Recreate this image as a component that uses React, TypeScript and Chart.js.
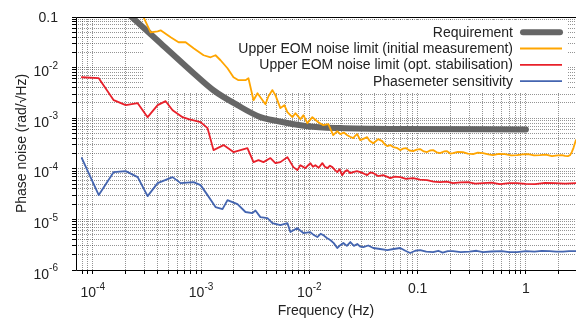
import React, { useEffect, useRef } from 'react';
import { Chart, registerables } from 'chart.js';

Chart.register(...registerables);

const X_MIN = 7.13e-5;
const X_MAX = 2.9;
const Y_MIN = 1e-6;
const Y_MAX = 0.1;

const seriesLabels = [
  'Requirement',
  'Upper EOM noise limit (initial measurement)',
  'Upper EOM noise limit (opt. stabilisation)',
  'Phasemeter sensitivity',
];
const seriesColors = ['#666666', '#ffa500', '#e8202a', '#4465b0'];
const seriesWidths = [6, 1.8, 1.8, 1.8];

const xTickValues = [1e-4, 1e-3, 1e-2, 0.1, 1];
const xTickText = ['10^-4', '10^-3', '10^-2', '0.1', '1'];
const yTickValues = [0.1, 1e-2, 1e-3, 1e-4, 1e-5, 1e-6];
const yTickText = ['0.1', '10^-2', '10^-3', '10^-4', '10^-5', '10^-6'];

const xTitle = 'Frequency (Hz)';
const yTitle = 'Phase noise (rad/\u221AHz)';

// Requirement
const reqFreq = [2.0e-4, 2.29e-4, 4.23e-4, 8.53e-4, 1.3e-3, 2.17e-3, 3.53e-3, 4.65e-3, 9.6e-3, 1.93e-2, 6.9e-2, 1.0];
const reqVal = [0.13, 0.1, 0.0303, 7.74e-3, 3.57e-3, 1.81e-3, 1.05e-3, 9.1e-4, 6.96e-4, 6.37e-4, 6.1e-4, 6.0e-4];

// Upper EOM noise limit (initial measurement)
const initFreq = [
  2.49e-4, 3.42e-4, 3.97e-4, 4.23e-4, 5.24e-4, 6.2e-4, 7.2e-4, 8.53e-4, 1.055e-3, 1.224e-3,
  1.36e-3, 1.513e-3, 1.754e-3, 1.993e-3, 2.216e-3, 2.57e-3, 2.74e-3, 3.05e-3, 3.32e-3, 3.53e-3,
  3.93e-3, 4.19e-3, 4.56e-3, 4.86e-3, 5.4e-3, 5.88e-3, 6.27e-3, 6.97e-3, 7.43e-3, 8.26e-3,
  8.8e-3, 9.58e-3, 1.066e-2, 1.21e-2, 1.346e-2, 1.497e-2, 1.66e-2, 1.81e-2, 1.93e-2, 2.08e-2,
  2.24e-2, 2.38e-2, 2.54e-2, 2.65e-2, 2.77e-2, 2.95e-2, 3.15e-2, 3.42e-2, 3.6e-2, 3.89e-2,
  4.1e-2, 4.32e-2, 4.71e-2, 5.0e-2, 5.24e-2, 5.6e-2, 5.94e-2, 6.4e-2, 6.9e-2, 7.3e-2,
  7.83e-2, 8.4e-2, 9.09e-2, 0.098, 0.1054, 0.114, 0.1224, 0.13, 0.139, 0.15,
  0.161, 0.175, 0.187, 0.2, 0.212, 0.235, 0.262, 0.29, 0.325, 0.36,
  0.401, 0.45, 0.496, 0.56, 0.64, 0.73, 0.826, 0.93, 1.043, 1.19,
  1.345, 1.53, 1.74, 1.95, 2.15, 2.3, 2.44, 2.55, 2.65, 2.75, 2.89,
];
const initVal = [
  0.214, 0.0499, 0.0522, 0.0546, 0.0397, 0.0317, 0.0317, 0.0241, 0.01754, 0.016,
  0.01754, 0.01397, 9.7e-3, 6.45e-3, 5.63e-3, 5.63e-3, 6.17e-3, 2.27e-3, 3.12e-3, 2.6e-3,
  1.89e-3, 2.72e-3, 3.59e-3, 2.85e-3, 1.58e-3, 1.81e-3, 1.315e-3, 1.047e-3, 1.256e-3, 9.57e-4,
  1.148e-3, 7.97e-4, 1.047e-3, 8.34e-4, 7.28e-4, 7.62e-4, 4.62e-4, 5.54e-4, 4.84e-4, 5.2e-4,
  4.62e-4, 4.3e-4, 4.03e-4, 4.5e-4, 4.84e-4, 3.68e-4, 3.9e-4, 4.22e-4, 3.6e-4, 3.21e-4,
  3.5e-4, 3.85e-4, 3.52e-4, 3.0e-4, 2.81e-4, 2.95e-4, 2.68e-4, 2.6e-4, 2.34e-4, 2.5e-4,
  2.56e-4, 2.3e-4, 2.23e-4, 2.4e-4, 2.45e-4, 2.2e-4, 2.14e-4, 2.3e-4, 2.34e-4, 2.12e-4,
  2.04e-4, 2.2e-4, 2.23e-4, 2.0e-4, 2.04e-4, 2.15e-4, 2.14e-4, 2.0e-4, 1.95e-4, 2.08e-4,
  2.04e-4, 1.92e-4, 1.86e-4, 1.98e-4, 1.95e-4, 1.85e-4, 1.86e-4, 1.93e-4, 1.95e-4, 1.84e-4,
  1.86e-4, 1.9e-4, 1.78e-4, 1.84e-4, 1.86e-4, 1.8e-4, 1.78e-4, 1.85e-4, 2.14e-4, 2.6e-4, 3.68e-4,
];

// Upper EOM noise limit (opt. stabilisation)
const optFreq = [
  7.92e-5, 1.136e-4, 1.561e-4, 2.014e-4, 2.6e-4, 3.21e-4, 3.97e-4, 4.71e-4, 5.46e-4, 6.75e-4,
  7.67e-4, 9.9e-4, 1.148e-3, 1.303e-3, 1.613e-3, 1.993e-3, 2.31e-3, 2.68e-3, 3.05e-3, 3.39e-3,
  3.77e-3, 4.37e-3, 4.86e-3, 5.4e-3, 6.27e-3, 7.12e-3, 7.75e-3, 8.26e-3, 9.18e-3, 1.02e-2,
  1.08e-2, 1.136e-2, 1.22e-2, 1.318e-2, 1.39e-2, 1.466e-2, 1.55e-2, 1.63e-2, 1.72e-2, 1.81e-2,
  1.9e-2, 2.01e-2, 2.12e-2, 2.24e-2, 2.38e-2, 2.54e-2, 2.75e-2, 2.95e-2, 3.2e-2, 3.42e-2,
  3.65e-2, 3.89e-2, 4.3e-2, 4.81e-2, 5.2e-2, 5.58e-2, 6.2e-2, 6.9e-2, 7.8e-2, 9.09e-2,
  0.105, 0.1224, 0.14, 0.161, 0.185, 0.212, 0.25, 0.292, 0.34, 0.401,
  0.48, 0.576, 0.7, 0.826, 1.0, 1.21, 1.5, 1.84, 2.3, 2.89,
];
const optVal = [
  6.45e-3, 6.17e-3, 2.27e-3, 1.81e-3, 1.98e-3, 1.047e-3, 1.81e-3, 2.17e-3, 1.44e-3, 1.047e-3,
  9.57e-4, 8.34e-4, 6.35e-4, 2.34e-4, 2.94e-4, 2.14e-4, 2.34e-4, 2.56e-4, 1.355e-4, 1.48e-4,
  1.355e-4, 1.63e-4, 1.294e-4, 1.355e-4, 1.7e-4, 1.08e-4, 9.42e-5, 1.18e-4, 1.031e-4, 1.294e-4,
  1.1e-4, 1.18e-4, 1.05e-4, 1.294e-4, 1.1e-4, 1.031e-4, 1.15e-4, 1.08e-4, 9.5e-5, 8.6e-5,
  9.8e-5, 7.5e-5, 8.8e-5, 9.42e-5, 8.2e-5, 8.6e-5, 9.0e-5, 8.6e-5, 8.0e-5, 7.5e-5,
  8.5e-5, 8.22e-5, 7.2e-5, 7.5e-5, 7.0e-5, 6.55e-5, 7.0e-5, 6.85e-5, 6.3e-5, 6.55e-5,
  6.1e-5, 5.98e-5, 5.6e-5, 5.46e-5, 5.6e-5, 5.21e-5, 5.4e-5, 5.46e-5, 5.1e-5, 5.21e-5,
  5.35e-5, 4.98e-5, 5.2e-5, 5.21e-5, 5.05e-5, 5.0e-5, 5.25e-5, 5.21e-5, 5.1e-5, 5.21e-5,
];

// Phasemeter sensitivity
const pmFreq = [
  7.92e-5, 1.136e-4, 1.561e-4, 2.014e-4, 2.6e-4, 3.21e-4, 3.97e-4, 5.46e-4, 6.47e-4, 8.53e-4,
  9.9e-4, 1.148e-3, 1.36e-3, 1.578e-3, 1.754e-3, 2.17e-3, 2.57e-3, 2.98e-3, 3.18e-3, 3.53e-3,
  4.1e-3, 4.56e-3, 5.4e-3, 6.27e-3, 6.68e-3, 7.75e-3, 8.8e-3, 1.02e-2, 1.1e-2, 1.185e-2,
  1.27e-2, 1.346e-2, 1.45e-2, 1.561e-2, 1.68e-2, 1.81e-2, 1.93e-2, 2.06e-2, 2.22e-2, 2.39e-2,
  2.58e-2, 2.77e-2, 2.95e-2, 3.15e-2, 3.5e-2, 3.89e-2, 4.5e-2, 5.24e-2, 6.0e-2, 6.9e-2,
  7.7e-2, 8.53e-2, 9.5e-2, 0.1054, 0.12, 0.139, 0.155, 0.17, 0.19, 0.212,
  0.25, 0.3, 0.35, 0.401, 0.48, 0.6, 0.7, 0.826, 1.0, 1.2,
  1.4, 1.66, 1.9, 2.2, 2.5, 2.89,
];
const pmVal = [
  1.63e-4, 3.02e-5, 8.6e-5, 9.0e-5, 6.85e-5, 2.89e-5, 5.21e-5, 6.85e-5, 5.21e-5, 5.46e-5,
  4.76e-5, 3.02e-5, 1.75e-5, 1.6e-5, 2.41e-5, 2.01e-5, 1.4e-5, 1.334e-5, 1.5e-5, 1.11e-5,
  1.06e-5, 8.46e-6, 7.73e-6, 8.46e-6, 5.62e-6, 6.74e-6, 5.37e-6, 5.62e-6, 4.9e-6, 4.48e-6,
  5.2e-6, 4.9e-6, 4.3e-6, 3.91e-6, 3.4e-6, 2.72e-6, 3.1e-6, 3.41e-6, 3.0e-6, 3.57e-6,
  3.0e-6, 3.26e-6, 2.9e-6, 2.84e-6, 3.05e-6, 2.72e-6, 2.6e-6, 2.48e-6, 2.6e-6, 2.72e-6,
  2.4e-6, 2.17e-6, 2.4e-6, 2.48e-6, 2.3e-6, 2.265e-6, 2.4e-6, 2.2e-6, 2.35e-6, 2.37e-6,
  2.25e-6, 2.3e-6, 2.4e-6, 2.265e-6, 2.32e-6, 2.35e-6, 2.25e-6, 2.265e-6, 2.35e-6, 2.3e-6,
  2.38e-6, 2.37e-6, 2.3e-6, 2.3e-6, 2.36e-6, 2.37e-6,
];

const FONT = '"Liberation Sans", Arial, Helvetica, sans-serif';

function logTicks(min: number, max: number) {
  const out: { value: number }[] = [];
  for (let k = -8; k <= 2; k++) {
    for (let m = 1; m <= 9; m++) {
      const v = Number((m * Math.pow(10, k)).toPrecision(2));
      if (v >= min * 0.9999 && v <= max * 1.0001) out.push({ value: v });
    }
  }
  return out;
}

function measureLabel(ctx: CanvasRenderingContext2D, text: string) {
  const parts = text.split('^');
  ctx.font = `14px ${FONT}`;
  const bw = ctx.measureText(parts[0]).width;
  let ew = 0;
  if (parts.length > 1) {
    ctx.font = `10px ${FONT}`;
    ew = ctx.measureText(parts[1]).width;
  }
  return { parts, bw, ew, w: bw + ew };
}

const overlay = {
  id: 'overlay',
  beforeDatasetsDraw(chart: any) {
    const ctx = chart.ctx as CanvasRenderingContext2D;
    ctx.save();
    ctx.fillStyle = '#ffffff';
    ctx.fillRect(143, 21, 425, 71);
    ctx.restore();
  },
  afterDraw(chart: any) {
    const ctx = chart.ctx as CanvasRenderingContext2D;
    const area = chart.chartArea;
    const xs = chart.scales.x;
    const ys = chart.scales.y;
    ctx.save();
    ctx.strokeStyle = '#000';
    ctx.lineWidth = 1;
    ctx.beginPath();
    const L = Math.round(area.left) + 0.5;
    const T = Math.round(area.top) + 0.5;
    const B = Math.round(area.bottom) + 0.5;
    ctx.moveTo(area.right, T);
    ctx.lineTo(L, T);
    ctx.lineTo(L, B);
    ctx.lineTo(area.right, B);
    ctx.stroke();

    ctx.fillStyle = '#222';
    ctx.textBaseline = 'alphabetic';
    xTickValues.forEach((v, i) => {
      const px = xs.getPixelForValue(v);
      const m = measureLabel(ctx, xTickText[i]);
      const x0 = px - m.w / 2;
      ctx.textAlign = 'left';
      if (m.parts.length > 1) {
        ctx.font = `14px ${FONT}`;
        ctx.fillText(m.parts[0], x0, 297);
        ctx.font = `10px ${FONT}`;
        ctx.fillText(m.parts[1], x0 + m.bw, 290);
      } else {
        ctx.font = `14px ${FONT}`;
        ctx.fillText(m.parts[0], x0, 293);
      }
    });
    yTickValues.forEach((v, i) => {
      const py = ys.getPixelForValue(v);
      const m = measureLabel(ctx, yTickText[i]);
      const x0 = 58 - m.w;
      ctx.textAlign = 'left';
      if (m.parts.length > 1) {
        ctx.font = `14px ${FONT}`;
        ctx.fillText(m.parts[0], x0, py + 8.6);
        ctx.font = `10px ${FONT}`;
        ctx.fillText(m.parts[1], x0 + m.bw, py + 1.2);
      } else {
        ctx.font = `14px ${FONT}`;
        ctx.fillText(m.parts[0], x0, py + 5);
      }
    });
    ctx.font = `14px ${FONT}`;
    ctx.textAlign = 'center';
    ctx.fillText(xTitle, (area.left + area.right) / 2, 315);
    ctx.save();
    ctx.translate(26, (area.top + area.bottom) / 2);
    ctx.rotate(-Math.PI / 2);
    ctx.fillText(yTitle, 0, 0);
    ctx.restore();

    const baselines = [36.8, 53.1, 69.4, 85.8];
    seriesLabels.forEach((lab, i) => {
      ctx.font = `14px ${FONT}`;
      ctx.textAlign = 'right';
      ctx.fillStyle = '#222';
      ctx.fillText(lab, 513, baselines[i]);
      ctx.strokeStyle = seriesColors[i];
      ctx.lineWidth = seriesWidths[i];
      ctx.lineCap = i === 0 ? 'round' : 'butt';
      ctx.beginPath();
      const ly = baselines[i] - 4.6;
      ctx.moveTo(i === 0 ? 523 : 520, ly);
      ctx.lineTo(i === 0 ? 560 : 562, ly);
      ctx.stroke();
    });
    ctx.restore();
  },
};

export default function App() {
  const ref = useRef<HTMLCanvasElement>(null);
  useEffect(() => {
    const canvas = ref.current!;
    const mk = (fs: number[], vs: number[]) => fs.map((f, i) => ({ x: f, y: vs[i] }));
    const series = [
      mk(reqFreq, reqVal),
      mk(initFreq, initVal),
      mk(optFreq, optVal),
      mk(pmFreq, pmVal),
    ];
    const gridOpts = {
      color: 'rgba(0,0,0,0.42)',
      lineWidth: 1,
      drawTicks: true,
      tickLength: 4,
      tickColor: '#000',
      tickWidth: 1,
    };
    const chart = new Chart(canvas, {
      type: 'line',
      data: {
        datasets: series.map((d, i) => ({
          label: seriesLabels[i],
          data: d,
          borderColor: seriesColors[i],
          backgroundColor: seriesColors[i],
          borderWidth: seriesWidths[i],
          pointRadius: 0,
          fill: false,
          order: 4 - i,
          cubicInterpolationMode: i === 0 ? 'monotone' : 'default',
          tension: 0,
          borderCapStyle: 'round',
          borderJoinStyle: 'round',
        })),
      },
      options: {
        responsive: false,
        animation: false,
        devicePixelRatio: 1,
        layout: { padding: { top: 17, left: 0, right: 0, bottom: 0 } },
        plugins: { legend: { display: false }, tooltip: { enabled: false } },
        scales: {
          x: {
            type: 'logarithmic',
            min: X_MIN,
            max: X_MAX,
            afterBuildTicks: (s: any) => { s.ticks = logTicks(X_MIN, X_MAX); },
            afterFit: (s: any) => { s.height = 50; },
            ticks: { display: false },
            grid: gridOpts,
            border: { display: false, dash: [1, 1] },
          },
          y: {
            type: 'logarithmic',
            min: Y_MIN,
            max: Y_MAX,
            afterBuildTicks: (s: any) => { s.ticks = logTicks(Y_MIN, Y_MAX); },
            afterFit: (s: any) => { s.width = 76; },
            ticks: { display: false },
            grid: gridOpts,
            border: { display: false, dash: [1, 1] },
          },
        },
      } as any,
      plugins: [overlay as any],
    });
    return () => chart.destroy();
  }, []);
  return (
    <div style={{ position: 'absolute', left: 0, top: 0, width: 576, height: 320, background: '#fff' }}>
      <canvas ref={ref} width={576} height={320} style={{ display: 'block', width: 576, height: 320 }} />
    </div>
  );
}
